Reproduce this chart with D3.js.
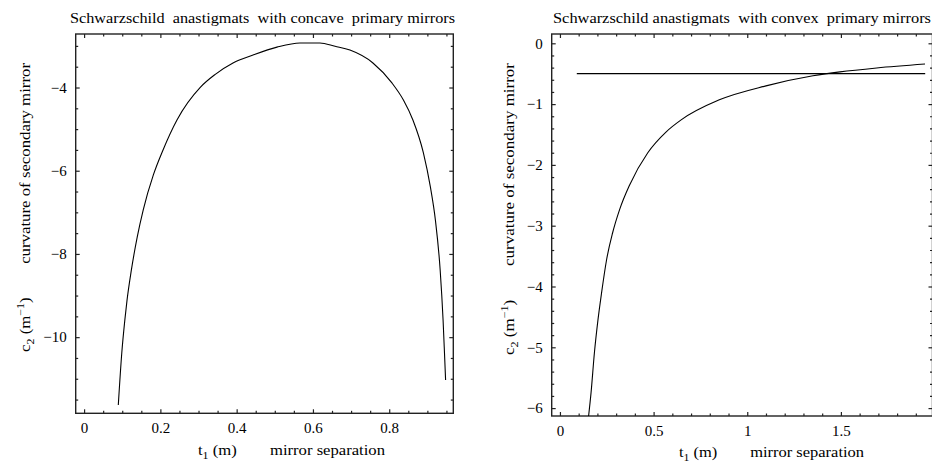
<!DOCTYPE html>
<html>
<head>
<meta charset="utf-8">
<script src="https://cdn.jsdelivr.net/npm/d3@7/dist/d3.min.js"></script>
<style>
  html, body { margin: 0; padding: 0; background: #fff; }
  svg { display: block; }
  text { font-family: "Liberation Serif", "Times New Roman", serif; fill: #000; white-space: pre; }
</style>
</head>
<body>
<svg id="chart" width="932" height="464"></svg>
<script>
// ---------- data ----------
const leftTitle = "Schwarzschild  anastigmats  with concave  primary mirrors";
const rightTitle = "Schwarzschild anastigmats  with convex  primary mirrors";

// concave primary: mirror separation t1 (m) vs secondary curvature c2 (1/m)
const concaveT  = [0.0897, 0.0988, 0.1068, 0.1126, 0.1239, 0.1394, 0.1551, 0.1816, 0.2070, 0.2435, 0.3052, 0.343, 0.3904, 0.443, 0.5057, 0.566, 0.6185, 0.658, 0.697, 0.7573, 0.8071, 0.8372, 0.8621, 0.8896, 0.9079, 0.9211, 0.9336, 0.9412, 0.9449, 0.9478];
const concaveC2 = [-11.63, -10.38, -9.59, -9.11, -8.39, -7.59, -6.94, -6.10, -5.50, -4.78, -3.99, -3.69, -3.41, -3.22, -3.03, -2.93, -2.93, -3.01, -3.10, -3.41, -3.89, -4.30, -4.78, -5.57, -6.39, -7.19, -8.39, -9.59, -10.38, -11.03];

// convex primary
const convexT  = [0.153, 0.166, 0.184, 0.203, 0.222, 0.249, 0.281, 0.318, 0.372, 0.469, 0.566, 0.647, 0.851, 1.100, 1.351, 1.495, 1.691, 1.949];
const convexC2 = [-6.13, -5.75, -5.09, -4.55, -4.11, -3.56, -3.12, -2.74, -2.33, -1.80, -1.46, -1.26, -0.93, -0.70, -0.535, -0.47, -0.405, -0.34];

// horizontal reference line
const refT  = [0.09, 1.95];
const refC2 = [-0.5, -0.5];

// ticks
const leftXMajor = [0, 0.2, 0.4, 0.6, 0.8];
const leftXLabels = ["0", "0.2", "0.4", "0.6", "0.8"];
const leftYMajor = [-10, -8, -6, -4];
const leftYLabels = ["\u221210", "\u22128", "\u22126", "\u22124"];
const rightXMajor = [0, 0.5, 1, 1.5];
const rightXLabels = ["0", "0.5", "1", "1.5"];
const rightYMajor = [0, -1, -2, -3, -4, -5, -6];
const rightYLabels = ["0", "\u22121", "\u22122", "\u22123", "\u22124", "\u22125", "\u22126"];

const svg = d3.select("#chart");

function panel(cfg) {
  const g = svg.append("g");
  const x = d3.scaleLinear().domain(cfg.xDomain).range([cfg.left, cfg.right]);
  const y = d3.scaleLinear().domain(cfg.yDomain).range([cfg.bottom, cfg.top]);
  const clipId = cfg.id + "-clip";
  svg.append("clipPath").attr("id", clipId).append("rect")
    .attr("x", cfg.left).attr("y", cfg.top)
    .attr("width", cfg.right - cfg.left).attr("height", cfg.bottom - cfg.top);

  const majLen = 4, minLen = 2.5;
  const xMinor = d3.range(Math.ceil(cfg.xDomain[0] / cfg.xMinorStep), Math.floor(cfg.xDomain[1] / cfg.xMinorStep) + 1)
    .map(i => +(i * cfg.xMinorStep).toFixed(6))
    .filter(v => !cfg.xMajor.some(m => Math.abs(m - v) < 1e-6));
  const yMinor = d3.range(Math.ceil(cfg.yDomain[0] / cfg.yMinorStep), Math.floor(cfg.yDomain[1] / cfg.yMinorStep) + 1)
    .map(i => +(i * cfg.yMinorStep).toFixed(6))
    .filter(v => !cfg.yMajor.some(m => Math.abs(m - v) < 1e-6));

  function styleAxis(sel) {
    sel.select(".domain").remove();
    sel.selectAll("line").attr("stroke", "#222").attr("stroke-width", 1.2);
  }
  const bx = g.append("g").attr("transform", `translate(0,${cfg.bottom})`)
    .call(d3.axisBottom(x).tickValues(cfg.xMajor).tickFormat((d, i) => cfg.xLabels[i]).tickSize(-majLen).tickPadding(9));
  styleAxis(bx);
  bx.selectAll("text").attr("font-size", 15).attr("font-family", "Liberation Serif").attr("fill", "#000");
  g.append("g").attr("transform", `translate(0,${cfg.bottom})`)
    .call(d3.axisBottom(x).tickValues(xMinor).tickFormat("").tickSize(-minLen)).call(styleAxis);
  g.append("g").attr("transform", `translate(0,${cfg.top})`)
    .call(d3.axisTop(x).tickValues(cfg.xMajor).tickFormat("").tickSize(-majLen)).call(styleAxis);
  g.append("g").attr("transform", `translate(0,${cfg.top})`)
    .call(d3.axisTop(x).tickValues(xMinor).tickFormat("").tickSize(-minLen)).call(styleAxis);
  const ly = g.append("g").attr("transform", `translate(${cfg.left},0)`)
    .call(d3.axisLeft(y).tickValues(cfg.yMajor).tickFormat((d, i) => cfg.yLabels[i]).tickSize(-majLen).tickPadding(9));
  styleAxis(ly);
  ly.selectAll("text").attr("font-size", 15).attr("font-family", "Liberation Serif").attr("fill", "#000");
  g.append("g").attr("transform", `translate(${cfg.left},0)`)
    .call(d3.axisLeft(y).tickValues(yMinor).tickFormat("").tickSize(-minLen)).call(styleAxis);
  g.append("g").attr("transform", `translate(${cfg.right},0)`)
    .call(d3.axisRight(y).tickValues(cfg.yMajor).tickFormat("").tickSize(-majLen)).call(styleAxis);
  g.append("g").attr("transform", `translate(${cfg.right},0)`)
    .call(d3.axisRight(y).tickValues(yMinor).tickFormat("").tickSize(-minLen)).call(styleAxis);

  g.append("rect").attr("x", cfg.left).attr("y", cfg.top)
    .attr("width", cfg.right - cfg.left).attr("height", cfg.bottom - cfg.top)
    .attr("fill", "none").attr("stroke", "#222").attr("stroke-width", 1.4);

  const plot = g.append("g").attr("clip-path", `url(#${clipId})`);
  cfg.series.forEach(s => {
    const pts = s.t.map((t, i) => [t, s.c[i]]);
    plot.append("path").datum(pts)
      .attr("fill", "none").attr("stroke", "#000").attr("stroke-width", s.w || 1.1)
      .attr("d", d3.line().x(d => x(d[0])).y(d => y(d[1])).curve(s.curve || d3.curveMonotoneX));
  });

  g.append("text").attr("x", cfg.titleX).attr("y", 23).attr("font-size", 14)
    .attr("textLength", cfg.titleLen).attr("lengthAdjust", "spacingAndGlyphs").text(cfg.title);

  const xl = g.append("text").attr("x", cfg.xLabX).attr("y", cfg.xLabY).attr("font-size", 14)
    .attr("textLength", cfg.xLabLen).attr("lengthAdjust", "spacingAndGlyphs");
  xl.append("tspan").text("t");
  xl.append("tspan").attr("dy", 4).attr("font-size", 10).text("1");
  xl.append("tspan").attr("dy", -4).text(" (m)        mirror separation");

  const yl = g.append("text").attr("transform", `translate(${cfg.yLabX},${cfg.yLabY}) rotate(-90)`)
    .attr("font-size", 14).attr("textLength", cfg.yLabLen).attr("lengthAdjust", "spacingAndGlyphs");
  yl.append("tspan").text("c");
  yl.append("tspan").attr("dy", 4).attr("font-size", 10).text("2");
  yl.append("tspan").attr("dy", -4).text(" (m");
  yl.append("tspan").attr("dy", -6).attr("font-size", 10).text("\u22121");
  yl.append("tspan").attr("dy", 6).text(")        curvature of secondary mirror");
}

panel({
  id: "left", left: 75.7, right: 453.3, top: 34, bottom: 413.3,
  xDomain: [-0.022, 0.968], yDomain: [-11.83, -2.714],
  xMajor: leftXMajor, xLabels: leftXLabels, xMinorStep: 0.05,
  yMajor: leftYMajor, yLabels: leftYLabels, yMinorStep: 0.5,
  series: [{ t: concaveT, c: concaveC2 }],
  title: leftTitle, titleX: 70, titleLen: 385,
  xLabX: 198, xLabY: 455, xLabLen: 187,
  yLabX: 30, yLabY: 352, yLabLen: 289
});

panel({
  id: "right", left: 551.7, right: 932.5, top: 34, bottom: 416,
  xDomain: [-0.044, 1.989], yDomain: [-6.13, 0.153],
  xMajor: rightXMajor, xLabels: rightXLabels, xMinorStep: 0.1,
  yMajor: rightYMajor, yLabels: rightYLabels, yMinorStep: 0.2,
  series: [{ t: convexT, c: convexC2 }, { t: refT, c: refC2, curve: d3.curveLinear, w: 1.3 }],
  title: rightTitle, titleX: 553, titleLen: 378,
  xLabX: 679, xLabY: 457, xLabLen: 185,
  yLabX: 514, yLabY: 355, yLabLen: 292
});
</script>
</body>
</html>
